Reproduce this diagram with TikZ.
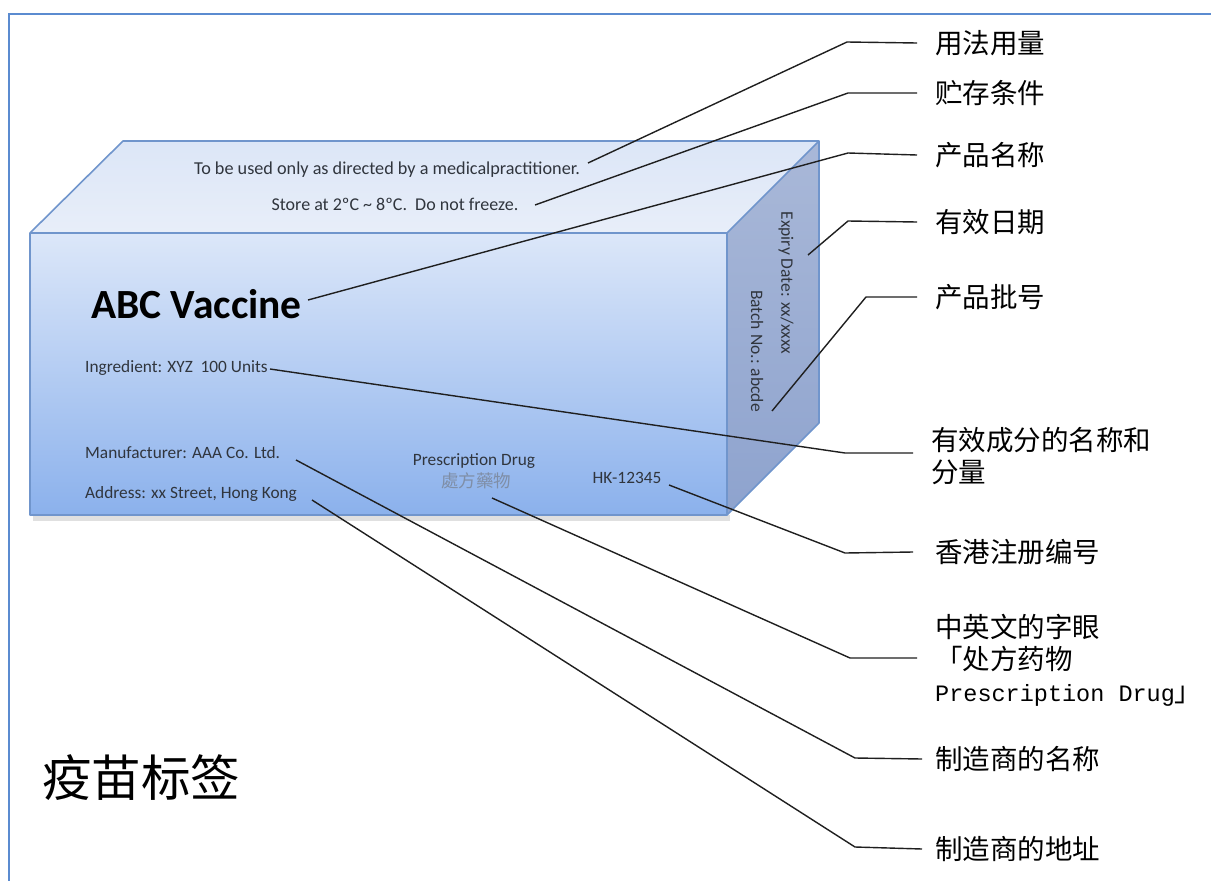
\documentclass[tikz,border=0pt]{standalone}
\usepackage{fontspec}
\setmainfont{Carlito}
\newfontfamily\cjk{Noto Sans CJK SC}
\newfontfamily\cjktc{Noto Sans CJK TC}
\newfontfamily\monof{Liberation Mono}
\usetikzlibrary{calc}
\definecolor{frame}{HTML}{5B8BD0}
\definecolor{boxedge}{HTML}{7095CC}
\definecolor{topA}{HTML}{DCE6F7}
\definecolor{topB}{HTML}{E8EEF9}
\definecolor{frontA}{HTML}{DCE7F9}
\definecolor{frontB}{HTML}{8BB1EC}
\definecolor{sideA}{HTML}{A9B8D8}
\definecolor{sideB}{HTML}{8EA3CE}
\definecolor{boxtext}{HTML}{30353D}
\definecolor{chtext}{HTML}{7F8EA6}
\begin{document}
\begin{tikzpicture}[x=1pt,y=-1pt,
  lbl/.style={anchor=west,inner sep=0pt,font=\cjk\fontsize{27.5}{31}\selectfont},
  lblm/.style={anchor=north west,inner sep=0pt,align=left,font=\cjk\fontsize{27.5}{32}\selectfont},
  leader/.style={draw=black!88,line width=1.4pt,line join=round},
  boxtxt/.style={inner sep=0pt,text=boxtext,font=\fontsize{17.3}{20}\selectfont},
  edgeline/.style={draw=boxedge,line width=1.6pt,line join=round}]
\useasboundingbox (0,0) rectangle (1211,881);
\fill[white] (0,0) rectangle (1211,881);
% frame
\draw[frame,line width=1.6pt] (9,881) -- (9,14) -- (1211,14);
% box
\fill[black!12] (33,515) rectangle (730,521);
\shade[top color=topA,bottom color=topB] (123,141) -- (819,141) -- (727,233) -- (30,233) -- cycle;
\shade[top color=frontA,bottom color=frontB] (30,233) rectangle (727,515);
\shade[top color=sideA,bottom color=sideB] (727,233) -- (819,141) -- (819,423) -- (727,515) -- cycle;
\draw[edgeline] (30,233) -- (123,141) -- (819,141) -- (819,423) -- (727,515) -- (30,515) -- cycle;
\draw[edgeline] (30,233) -- (727,233) -- (819,141);
\draw[edgeline] (727,233) -- (727,515);
% box texts
\node[boxtxt,font=\fontsize{18.2}{20}\selectfont] (use) at (387,170) {To be used only as directed by a medicalpractitioner.};
\node[boxtxt,font=\fontsize{18}{20}\selectfont] (store) at (395,204) {Store at 2ºC \textasciitilde{} 8ºC.\ \ Do not freeze.};
\node[anchor=west,inner sep=0pt,font=\bfseries\fontsize{41.5}{44}\selectfont] (abc) at (91,304) {ABC Vaccine};
\node[boxtxt,anchor=west] (ingr) at (85,368) {Ingredient: XYZ\ \ 100 Units};
\node[boxtxt,anchor=west] (manu) at (85,453) {Manufacturer: AAA Co. Ltd.};
\node[boxtxt,anchor=west] (addr) at (85,494) {Address: xx Street, Hong Kong};
\node[boxtxt] (presc) at (474,461) {Prescription Drug};
\node[inner sep=0pt,text=chtext,font=\cjktc\fontsize{17.5}{20}\selectfont] (chpresc) at (476,481) {處方藥物};
\node[boxtxt] (hk) at (627,478) {HK-12345};
\node[boxtxt,rotate=-90,font=\fontsize{17.5}{20}\selectfont] (exp) at (786,283) {Expiry Date: xx/xxxx};
\node[boxtxt,rotate=-90,font=\fontsize{17.5}{20}\selectfont] (batch) at (757,351) {Batch No.: abcde};
% labels
\node[lbl] (l1) at (935,43) {用法用量};
\node[lbl] (l2) at (935,93) {贮存条件};
\node[lbl] (l3) at (935,155) {产品名称};
\node[lbl] (l4) at (935,222) {有效日期};
\node[lbl] (l5) at (935,297) {产品批号};
\node[lblm] (l6) at (931,427) {有效成分的名称和\\分量};
\node[lbl] (l7) at (935,552) {香港注册编号};
\node[lblm] (l8) at (935,614) {中英文的字眼\\「处方药物\\{\monof\fontsize{23.5}{32}\selectfont Prescription Drug}」};
\node[lbl] (l9) at (935,759) {制造商的名称};
\node[lbl] (l10) at (935,849) {制造商的地址};
\node[anchor=west,inner sep=0pt,font=\cjk\fontsize{49.5}{52}\selectfont] (title) at (42,778) {疫苗标签};
% leader geometry
\coordinate (e1) at (847,42);  \coordinate (p1) at (588,163);
\coordinate (e2) at (848,93);  \coordinate (p2) at (535,205);
\coordinate (e3) at (848,153); \coordinate (p3) at (308,300);
\coordinate (e4) at (848,221); \coordinate (p4) at (808,255);
\coordinate (e5) at (866,297); \coordinate (p5) at (772,411);
\coordinate (s6) at (913,453); \coordinate (e6) at (845,453); \coordinate (p6) at (270,369);
\coordinate (e7) at (845,553); \coordinate (p7) at (669,485);
\coordinate (s8) at (917,658); \coordinate (e8) at (850,658); \coordinate (p8) at (492,498);
\coordinate (e9) at (855,758); \coordinate (p9) at (296,460);
\coordinate (e10) at (855,847); \coordinate (p10) at (312,500);
\draw[leader] ([xshift=-18pt]l1.west) -- (e1) -- (p1);
\draw[leader] ([xshift=-18pt]l2.west) -- (e2) -- (p2);
\draw[leader] ([xshift=-18pt]l3.west) -- (e3) -- (p3);
\draw[leader] ([xshift=-18pt]l4.west) -- (e4) -- (p4);
\draw[leader] ([xshift=-18pt]l5.west) -- (e5) -- (p5);
\draw[leader] (s6) -- (e6) -- (p6);
\draw[leader] ([xshift=-22pt]l7.west) -- (e7) -- (p7);
\draw[leader] (s8) -- (e8) -- (p8);
\draw[leader] ([xshift=-13pt]l9.west) -- (e9) -- (p9);
\draw[leader] ([xshift=-13pt]l10.west) -- (e10) -- (p10);
\end{tikzpicture}
\end{document}
